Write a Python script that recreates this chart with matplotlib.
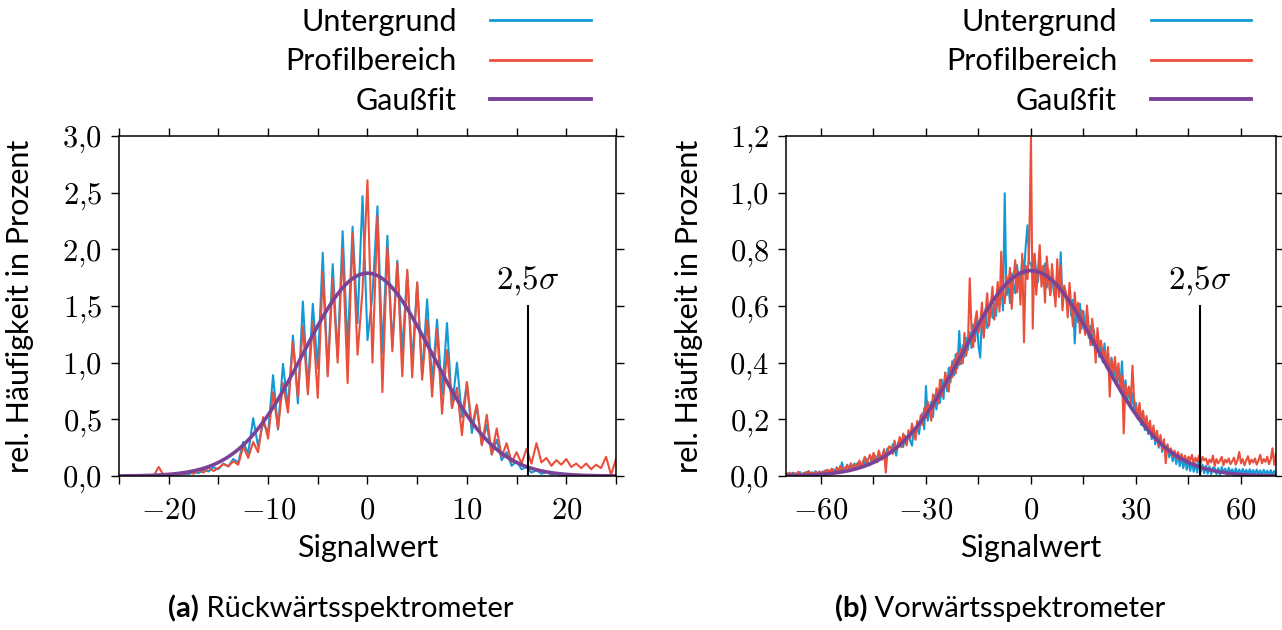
import numpy as np
import matplotlib.pyplot as plt
from matplotlib.ticker import MultipleLocator, FuncFormatter

plt.rcParams['font.family'] = ['Lato', 'DejaVu Sans']
plt.rcParams['mathtext.fontset'] = 'cm'

BLUE = '#139ad6'
RED = '#ea4f3c'
PURPLE = '#7b4397'

# Rückwärtsspektrometer, Histogramm mit Binbreite 0,5
signal_a = np.arange(-25, 25.01, 0.5)
untergrund_a = [
    0.000, 0.002, 0.000, 0.003, 0.001, 0.004, 0.002, 0.006, 0.004, 0.008,
    0.006, 0.014, 0.010, 0.022, 0.016, 0.034, 0.026, 0.052, 0.040, 0.078,
    0.060, 0.110, 0.085, 0.150, 0.120, 0.300, 0.200, 0.510, 0.260, 0.470,
    0.380, 0.890, 0.410, 0.990, 0.600, 1.240, 0.640, 1.540, 0.760, 1.520,
    0.950, 1.970, 0.900, 1.870, 1.050, 2.160, 1.120, 2.200, 1.350, 2.470,
    1.200, 1.600, 2.380, 1.080, 2.120, 1.140, 1.900, 1.100, 1.800, 1.000,
    1.700, 0.900, 1.560, 0.820, 1.380, 0.720, 1.350, 0.600, 1.000, 0.520,
    0.820, 0.380, 0.620, 0.280, 0.450, 0.190, 0.320, 0.140, 0.210, 0.090,
    0.130, 0.060, 0.080, 0.030, 0.050, 0.020, 0.035, 0.012, 0.022, 0.008,
    0.015, 0.005, 0.010, 0.004, 0.006, 0.002, 0.004, 0.001, 0.003, 0.001,
    0.000,
]
profil_a = [
    0.000, 0.000, 0.003, 0.000, 0.005, 0.002, 0.008, 0.004, 0.080, 0.006,
    0.012, 0.008, 0.025, 0.012, 0.040, 0.020, 0.055, 0.030, 0.075, 0.045,
    0.070, 0.105, 0.085, 0.130, 0.100, 0.260, 0.160, 0.300, 0.210, 0.520,
    0.330, 0.740, 0.420, 0.820, 0.560, 1.180, 0.700, 1.320, 0.720, 1.360,
    0.690, 1.800, 0.880, 1.740, 1.000, 2.000, 0.820, 2.140, 1.070, 1.640,
    2.610, 1.000, 2.300, 0.740, 2.020, 1.100, 1.880, 0.880, 1.820, 0.870,
    1.710, 0.850, 1.380, 0.700, 1.300, 0.550, 1.110, 0.600, 0.780, 0.360,
    0.830, 0.440, 0.630, 0.270, 0.540, 0.190, 0.420, 0.170, 0.290, 0.120,
    0.210, 0.110, 0.240, 0.110, 0.290, 0.120, 0.160, 0.090, 0.140, 0.100,
    0.150, 0.080, 0.110, 0.070, 0.110, 0.060, 0.100, 0.070, 0.170, 0.010,
    0.150,
]
fit_a = dict(amp=1.79, mu=0.0, sigma=6.45)
cut_top_a = 1.5

# Vorwärtsspektrometer, Histogramm mit Binbreite 0,5
signal_b = np.arange(-70, 70.01, 0.5)
untergrund_b = [
    0.004, 0.010, 0.003, 0.008, 0.012, 0.005, 0.009, 0.006, 0.014, 0.004,
    0.011, 0.007, 0.015, 0.006, 0.010, 0.013, 0.008, 0.017, 0.007, 0.012,
    0.010, 0.016, 0.009, 0.021, 0.012, 0.018, 0.011, 0.024, 0.015, 0.031,
    0.014, 0.022, 0.048, 0.019, 0.027, 0.040, 0.023, 0.036, 0.029, 0.044,
    0.030, 0.047, 0.036, 0.028, 0.052, 0.040, 0.061, 0.045, 0.038, 0.066,
    0.049, 0.072, 0.055, 0.083, 0.060, 0.071, 0.090, 0.067, 0.098, 0.078,
    0.086, 0.112, 0.095, 0.072, 0.118, 0.104, 0.131, 0.102, 0.143, 0.124,
    0.150, 0.124, 0.107, 0.165, 0.137, 0.180, 0.148, 0.198, 0.222, 0.165,
    0.318, 0.195, 0.242, 0.262, 0.208, 0.285, 0.235, 0.306, 0.258, 0.340,
    0.272, 0.365, 0.300, 0.382, 0.330, 0.405, 0.355, 0.430, 0.380, 0.512,
    0.395, 0.462, 0.420, 0.488, 0.445, 0.508, 0.452, 0.535, 0.475, 0.560,
    0.460, 0.418, 0.572, 0.495, 0.590, 0.522, 0.535, 0.620, 0.558, 0.608,
    0.565, 0.638, 0.602, 0.672, 0.585, 0.998, 0.638, 0.682, 0.610, 0.715,
    0.672, 0.645, 0.745, 0.698, 0.680, 0.768, 0.712, 0.812, 0.885, 0.750,
    0.752, 0.695, 0.782, 0.718, 0.685, 0.758, 0.700, 0.678, 0.750, 0.665,
    0.728, 0.640, 0.705, 0.652, 0.618, 0.722, 0.635, 0.790, 0.600, 0.665,
    0.642, 0.588, 0.652, 0.565, 0.622, 0.468, 0.595, 0.542, 0.608, 0.520,
    0.582, 0.505, 0.558, 0.488, 0.530, 0.462, 0.515, 0.445, 0.498, 0.420,
    0.455, 0.402, 0.468, 0.385, 0.435, 0.362, 0.418, 0.340, 0.395, 0.325,
    0.372, 0.308, 0.405, 0.280, 0.338, 0.262, 0.315, 0.245, 0.292, 0.225,
    0.258, 0.202, 0.245, 0.180, 0.225, 0.162, 0.202, 0.148, 0.178, 0.130,
    0.165, 0.112, 0.148, 0.100, 0.135, 0.085, 0.118, 0.075, 0.108, 0.066,
    0.092, 0.052, 0.085, 0.042, 0.078, 0.035, 0.068, 0.028, 0.060, 0.022,
    0.054, 0.018, 0.048, 0.015, 0.044, 0.012, 0.060, 0.014, 0.040, 0.010,
    0.036, 0.008, 0.034, 0.006, 0.030, 0.028, 0.006, 0.028, 0.004, 0.032,
    0.012, 0.026, 0.005, 0.029, 0.011, 0.024, 0.004, 0.027, 0.010, 0.023,
    0.007, 0.025, 0.009, 0.022, 0.006, 0.024, 0.008, 0.021, 0.005, 0.023,
    0.007, 0.020, 0.004, 0.022, 0.006, 0.019, 0.005, 0.021, 0.004, 0.018,
    0.006,
]
profil_b = [
    0.008, 0.003, 0.012, 0.006, 0.002, 0.010, 0.004, 0.015, 0.007, 0.003,
    0.009, 0.013, 0.005, 0.018, 0.008, 0.011, 0.006, 0.014, 0.009, 0.016,
    0.012, 0.008, 0.019, 0.014, 0.022, 0.011, 0.026, 0.017, 0.013, 0.028,
    0.020, 0.035, 0.018, 0.030, 0.025, 0.038, 0.022, 0.045, 0.033, 0.028,
    0.042, 0.035, 0.055, 0.030, 0.048, 0.068, 0.042, 0.058, 0.075, 0.050,
    0.082, 0.062, 0.048, 0.090, 0.070, 0.058, 0.095, 0.012, 0.085, 0.105,
    0.098, 0.078, 0.125, 0.092, 0.110, 0.138, 0.102, 0.150, 0.122, 0.108,
    0.162, 0.135, 0.185, 0.150, 0.128, 0.195, 0.168, 0.215, 0.180, 0.240,
    0.205, 0.262, 0.228, 0.195, 0.288, 0.245, 0.310, 0.255, 0.340, 0.280,
    0.305, 0.365, 0.322, 0.298, 0.385, 0.348, 0.410, 0.362, 0.435, 0.392,
    0.448, 0.398, 0.505, 0.425, 0.470, 0.698, 0.520, 0.455, 0.545, 0.582,
    0.505, 0.540, 0.612, 0.488, 0.575, 0.645, 0.530, 0.598, 0.668, 0.552,
    0.612, 0.685, 0.580, 0.792, 0.642, 0.610, 0.705, 0.668, 0.735, 0.590,
    0.698, 0.762, 0.648, 0.720, 0.605, 0.785, 0.472, 0.742, 0.695, 0.812,
    1.195, 0.520, 0.785, 0.640, 0.728, 0.815, 0.668, 0.742, 0.612, 0.775,
    0.705, 0.638, 0.748, 0.680, 0.598, 0.765, 0.632, 0.740, 0.585, 0.672,
    0.645, 0.560, 0.682, 0.598, 0.528, 0.648, 0.570, 0.612, 0.505, 0.585,
    0.540, 0.498, 0.602, 0.525, 0.462, 0.555, 0.492, 0.400, 0.522, 0.455,
    0.478, 0.425, 0.440, 0.395, 0.455, 0.280, 0.412, 0.365, 0.420, 0.338,
    0.398, 0.310, 0.355, 0.150, 0.325, 0.282, 0.315, 0.258, 0.390, 0.265,
    0.242, 0.218, 0.258, 0.195, 0.230, 0.172, 0.212, 0.158, 0.195, 0.138,
    0.178, 0.125, 0.160, 0.105, 0.145, 0.095, 0.130, 0.045, 0.112, 0.082,
    0.098, 0.070, 0.090, 0.062, 0.085, 0.058, 0.078, 0.052, 0.072, 0.048,
    0.068, 0.055, 0.075, 0.042, 0.065, 0.050, 0.072, 0.045, 0.068, 0.055,
    0.062, 0.040, 0.058, 0.048, 0.072, 0.035, 0.060, 0.045, 0.055, 0.068,
    0.038, 0.058, 0.048, 0.062, 0.042, 0.052, 0.065, 0.040, 0.055, 0.085,
    0.045, 0.060, 0.038, 0.055, 0.070, 0.042, 0.058, 0.048, 0.062, 0.040,
    0.055, 0.075, 0.045, 0.060, 0.050, 0.068, 0.042, 0.058, 0.098, 0.040,
    0.080,
]
fit_b = dict(amp=0.725, mu=0.0, sigma=19.3)
cut_top_b = 0.6

x_fmt = FuncFormatter(lambda v, pos: f'${v:.0f}$')
y_fmt = FuncFormatter(lambda v, pos: '$' + f'{v:.1f}'.replace('.', '{,}') + '$')


def draw_panel(ax, x, bg, prof, fit, cut_top, xlim, ylim, xstep, ystep):
    ax.plot(x, bg, color=BLUE, lw=1.5, label='Untergrund')
    ax.plot(x, prof, color=RED, lw=1.5, label='Profilbereich')
    xf = np.linspace(xlim[0], xlim[1], 600)
    gauss = fit['amp'] * np.exp(-(xf - fit['mu']) ** 2 / (2 * fit['sigma'] ** 2))
    ax.plot(xf, gauss, color=PURPLE, lw=2.6, label='Gaußfit')

    # Schnitt bei 2,5 sigma
    cut = fit['mu'] + 2.5 * fit['sigma']
    ax.plot([cut, cut], [0, cut_top], color='black', lw=1.5)
    ax.text(cut, cut_top + 0.05 * ylim[1], r'$2{,}5\sigma$', ha='center',
            va='baseline', fontsize=24)

    ax.set_xlim(*xlim)
    ax.set_ylim(*ylim)
    ax.xaxis.set_major_locator(MultipleLocator(2 * xstep))
    ax.xaxis.set_minor_locator(MultipleLocator(xstep))
    ax.yaxis.set_major_locator(MultipleLocator(ystep))
    ax.xaxis.set_major_formatter(x_fmt)
    ax.yaxis.set_major_formatter(y_fmt)
    ax.tick_params(which='both', direction='out', top=True, right=True,
                   length=6, width=1.0, labelsize=22)
    ax.tick_params(axis='x', pad=8)
    ax.tick_params(axis='y', pad=6)
    for s in ax.spines.values():
        s.set_linewidth(1.1)

    ax.set_xlabel('Signalwert', fontsize=22)
    ax.set_ylabel('rel. Häufigkeit in Prozent', fontsize=22)
    ax.xaxis.set_label_coords(0.5, -0.17)
    ax.yaxis.set_label_coords(-0.17, 0.5)

    leg = ax.legend(loc='lower right', bbox_to_anchor=(0.95, 1.062), frameon=False,
                    markerfirst=False, fontsize=22, handlelength=3.3,
                    handletextpad=1.1, labelspacing=0.38, borderpad=0,
                    borderaxespad=0)
    for line in leg.get_lines():
        line.set_linewidth(2.0)
    leg.get_lines()[2].set_linewidth(2.8)


fig = plt.figure(figsize=(12.82, 6.30), dpi=100)
ax_a = fig.add_axes([0.0928, 0.2444, 0.3877, 0.5397])
ax_b = fig.add_axes([0.6131, 0.2444, 0.3822, 0.5397])

draw_panel(ax_a, signal_a, untergrund_a, profil_a, fit_a, cut_top_a,
           (-25, 25), (0, 3.0), 5, 0.5)
draw_panel(ax_b, signal_b, untergrund_b, profil_b, fit_b, cut_top_b,
           (-70, 70), (0, 1.2), 15, 0.2)

# Unterschriften: fetter Buchstabe + Name, gemeinsam zentriert
renderer = fig.canvas.get_renderer()
for xc, tag, name in [(0.266, '(a)', 'Rückwärtsspektrometer'),
                      (0.780, '(b)', 'Vorwärtsspektrometer')]:
    t1 = fig.text(0, 0.034, tag, fontsize=21, fontweight='bold', va='center')
    t2 = fig.text(0, 0.034, ' ' + name, fontsize=21, va='center')
    w1 = t1.get_window_extent(renderer).width / fig.bbox.width
    w2 = t2.get_window_extent(renderer).width / fig.bbox.width
    left = xc - (w1 + w2) / 2
    t1.set_x(left)
    t2.set_x(left + w1)

fig.savefig('out.png', dpi=100)
